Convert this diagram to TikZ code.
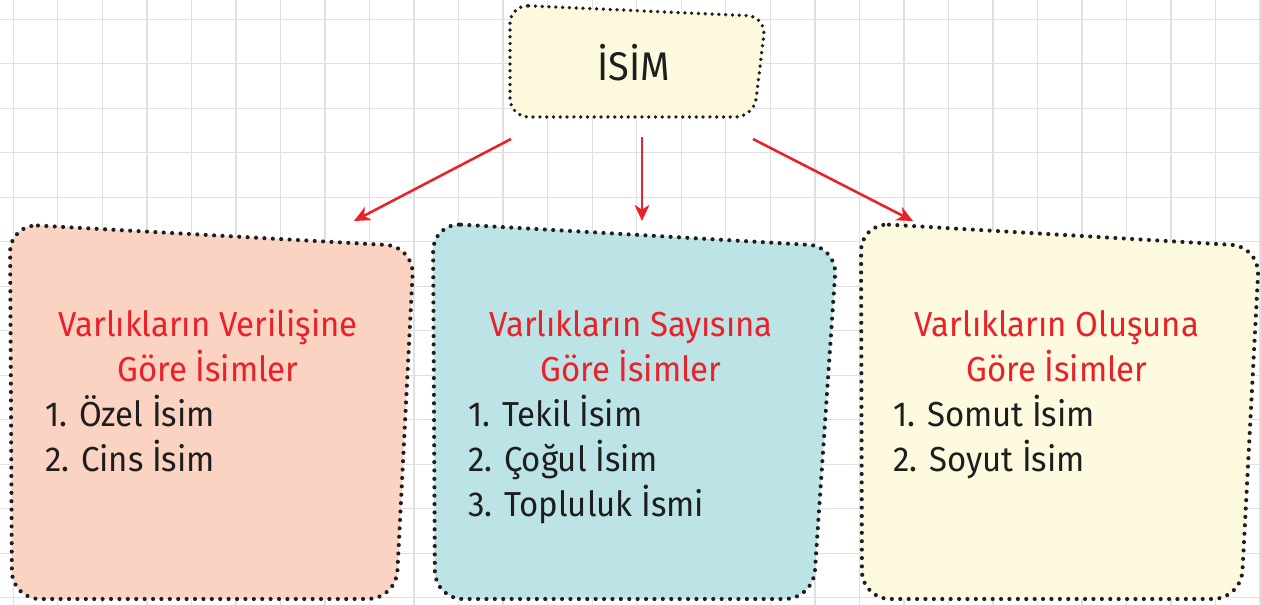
\documentclass[tikz,border=0pt]{standalone}
\usepackage{fontspec}
\setmainfont[FakeStretch=0.95]{Fira Sans}
\usetikzlibrary{arrows.meta}
\definecolor{gridc}{HTML}{E0E0E0}
\definecolor{peach}{HTML}{FBD3C2}
\definecolor{teal}{HTML}{BCE3E5}
\definecolor{cream}{HTML}{FEFADF}
\definecolor{topc}{HTML}{FDF9DC}
\definecolor{redc}{HTML}{EA2129}
\definecolor{ink}{HTML}{1E1E1E}
\tikzset{
  dotborder/.style={draw=ink, line width=3.1pt, line cap=round, dash pattern=on 0pt off 6.3pt},
  topborder/.style={draw=ink, line width=2.8pt, line cap=round, dash pattern=on 0pt off 5.1pt},
  title/.style={text=redc, anchor=base, inner sep=0pt, font=\fontsize{26}{30}\selectfont},
  item/.style={text=ink, anchor=base west, inner sep=0pt, font=\fontsize{26}{30}\selectfont},
  arr/.style={draw=redc, line width=1.9pt, -{Stealth[length=12pt,width=11pt,inset=3.5pt]}}
}
\begin{document}
\begin{tikzpicture}[x=0.75pt,y=-0.75pt]
\useasboundingbox (0,0) rectangle (1261,605);
\fill[white] (0,0) rectangle (1261,605);
% grid
\foreach \i in {0,...,28} \draw[gridc, line width=1pt] ({13.3+44.53*\i},0) -- ({13.3+44.53*\i},605);
\foreach \j in {0,...,13} \draw[gridc, line width=1pt] (0,{19.3+44.5*\j}) -- (1261,{19.3+44.5*\j});
% top box
\path[fill=topc, topborder, rounded corners=14pt] (510,5) -- (766,16.5) -- (754,117) -- (510,117) -- cycle;
\node[anchor=base, inner sep=0pt, text=ink, font=\fontsize{30}{36}\selectfont] (isim) at (634,81) {İSİM};
% boxes
\path[fill=peach, dotborder, rounded corners=21pt] (10,224) -- (414,246.5) -- (396,599) -- (12,599) -- cycle;
\path[fill=teal, dotborder, rounded corners=21pt] (433,223) -- (837,246.5) -- (813,599) -- (435,599) -- cycle;
\path[fill=cream, dotborder, rounded corners=21pt] (861,223) -- (1259.5,246.5) -- (1241,599) -- (862,599) -- cycle;
% arrows
\coordinate (s1) at (511,139); \coordinate (e1) at (354,221);
\coordinate (s2) at (642,137); \coordinate (e2) at (642,221);
\coordinate (s3) at (753,139); \coordinate (e3) at (913,221);
\draw[arr] (s1) -- (e1);
\draw[arr] (s2) -- (e2);
\draw[arr] (s3) -- (e3);
% box 1 text
\node[title] (t1a) at (208,336.7) {Varlıkların Verilişine};
\node[title] (t1b) at (208,381.7) {Göre İsimler};
\node[item] (i1a) at (45,426.7) {1. Özel İsim};
\node[item] (i1b) at (45,471.7) {2. Cins İsim};
% box 2 text
\node[title] (t2a) at (631,336.7) {Varlıkların Sayısına};
\node[title] (t2b) at (631,381.7) {Göre İsimler};
\node[item] (i2a) at (468,426.7) {1. Tekil İsim};
\node[item] (i2b) at (468,471.7) {2. Çoğul İsim};
\node[item] (i2c) at (468,516.7) {3. Topluluk İsmi};
% box 3 text
\node[title] (t3a) at (1057,336.7) {Varlıkların Oluşuna};
\node[title] (t3b) at (1057,381.7) {Göre İsimler};
\node[item] (i3a) at (893,426.7) {1. Somut İsim};
\node[item] (i3b) at (893,471.7) {2. Soyut İsim};
\end{tikzpicture}
\end{document}
